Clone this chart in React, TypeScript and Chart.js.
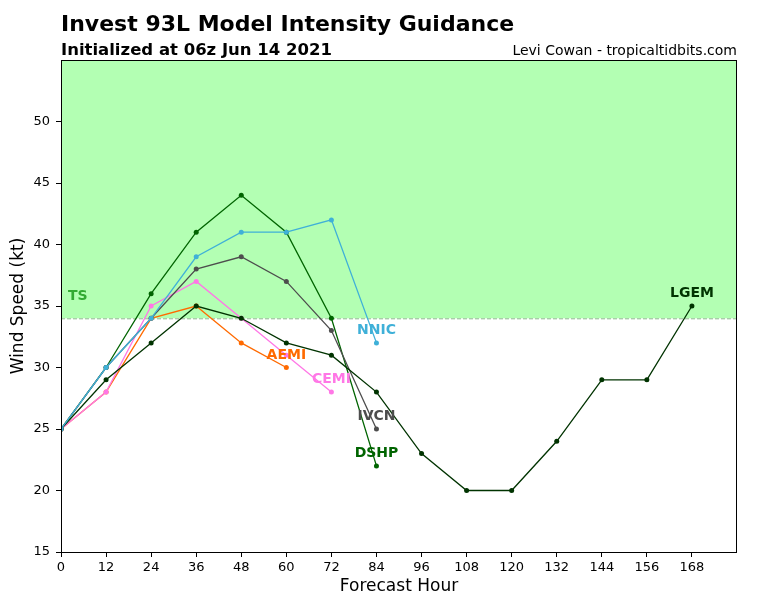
import React, { useEffect, useRef } from "react";
import { Chart, registerables } from "chart.js";

Chart.register(...registerables);

const hours = [0, 12, 24, 36, 48, 60, 72, 84, 96, 108, 120, 132, 144, 156, 168];
const xTicks = [0, 12, 24, 36, 48, 60, 72, 84, 96, 108, 120, 132, 144, 156, 168];
const yTicks = [15, 20, 25, 30, 35, 40, 45, 50];

const dshp = [25, 30, 36, 41, 44, 41, 34, 22];
const lgem = [25, 29, 32, 35, 34, 32, 31, 28, 23, 20, 20, 24, 29, 29, 35];
const nnic = [25, 30, 34, 39, 41, 41, 42, 32];
const ivcn = [25, 30, 34, 38, 39, 37, 33, 25];
const aemi = [25, 28, 34, 35, 32, 30];
const cemi = [25, 28, 35, 37, 34, 31, 28];

// listed from top-most to bottom-most
const models = [
  { name: "NNIC", values: nnic, color: "#3fb0d8" },
  { name: "LGEM", values: lgem, color: "#003300" },
  { name: "IVCN", values: ivcn, color: "#4d4d4d" },
  { name: "DSHP", values: dshp, color: "#006400" },
  { name: "CEMI", values: cemi, color: "#ff77e6" },
  { name: "AEMI", values: aemi, color: "#ff6a00" },
];

const TS_THRESHOLD = 34;
const FONT = "'DejaVu Sans', sans-serif";

const decorPlugin = {
  id: "decor",
  beforeDatasetsDraw(chart: any) {
    const { ctx, chartArea, scales } = chart;
    const y34 = scales.y.getPixelForValue(TS_THRESHOLD);
    ctx.save();
    ctx.fillStyle = "#b3ffb3";
    ctx.fillRect(chartArea.left, chartArea.top, chartArea.right - chartArea.left, y34 - chartArea.top);
    ctx.strokeStyle = "#8fb88f";
    ctx.lineWidth = 1;
    ctx.setLineDash([4, 2]);
    ctx.beginPath();
    ctx.moveTo(chartArea.left, y34 + 0.5);
    ctx.lineTo(chartArea.right, y34 + 0.5);
    ctx.stroke();
    ctx.setLineDash([]);
    ctx.fillStyle = "#33aa33";
    ctx.font = `bold 14px ${FONT}`;
    ctx.textAlign = "left";
    ctx.textBaseline = "middle";
    ctx.fillText("TS", chartArea.left + 7, scales.y.getPixelForValue(35.8));
    ctx.restore();
  },
  afterDatasetsDraw(chart: any) {
    const { ctx, chartArea, scales } = chart;
    ctx.save();
    ctx.font = `bold 14px ${FONT}`;
    ctx.textAlign = "center";
    ctx.textBaseline = "middle";
    models.forEach((m) => {
      const i = m.values.length - 1;
      const x = scales.x.getPixelForValue(hours[i]);
      const y = scales.y.getPixelForValue(m.values[i] + 1);
      ctx.fillStyle = m.color;
      ctx.fillText(m.name, x, y);
    });
    // frame
    ctx.strokeStyle = "#000";
    ctx.lineWidth = 1;
    ctx.strokeRect(chartArea.left + 0.5, chartArea.top + 0.5, chartArea.right - chartArea.left - 1, chartArea.bottom - chartArea.top);
    // titles
    ctx.fillStyle = "#000";
    ctx.textAlign = "left";
    ctx.textBaseline = "alphabetic";
    ctx.font = `bold 22px ${FONT}`;
    ctx.fillText("Invest 93L Model Intensity Guidance", 61, 31);
    ctx.font = `bold 16.5px ${FONT}`;
    ctx.fillText("Initialized at 06z Jun 14 2021", 61, 55);
    ctx.font = `14px ${FONT}`;
    ctx.textAlign = "right";
    ctx.fillText("Levi Cowan - tropicaltidbits.com", 737, 55);
    // axis titles
    ctx.textAlign = "center";
    ctx.textBaseline = "middle";
    ctx.font = `17px ${FONT}`;
    ctx.fillText("Forecast Hour", (chartArea.left + chartArea.right) / 2, 587);
    ctx.save();
    ctx.translate(19, (chartArea.top + chartArea.bottom) / 2);
    ctx.rotate(-Math.PI / 2);
    ctx.fillText("Wind Speed (kt)", 0, 0);
    ctx.restore();
    ctx.restore();
  },
};

export default function App() {
  const ref = useRef<HTMLCanvasElement>(null);
  useEffect(() => {
    if (!ref.current) return;
    const chart = new Chart(ref.current, {
      type: "line",
      data: {
        datasets: models.map((m) => ({
          label: m.name,
          data: m.values.map((v, i) => ({ x: hours[i], y: v })),
          borderColor: m.color,
          backgroundColor: m.color,
          borderWidth: 1.3,
          pointRadius: 2.5,
          pointHoverRadius: 2.5,
          pointBorderWidth: 0,
          tension: 0,
          fill: false,
        })),
      },
      options: {
        animation: false,
        responsive: false,
        maintainAspectRatio: false,
        events: [],
        layout: { padding: { top: 60, right: 31, left: 0, bottom: 0 } },
        plugins: { legend: { display: false }, tooltip: { enabled: false }, title: { display: false } },
        scales: {
          x: {
            type: "linear",
            min: 0,
            max: 180,
            afterFit(scale: any) {
              scale.height = 48;
            },
            afterBuildTicks(scale: any) {
              scale.ticks = xTicks.map((v) => ({ value: v }));
            },
            ticks: {
              color: "#000",
              font: { family: FONT, size: 13 },
              padding: 3,
              maxRotation: 0,
              autoSkip: false,
            },
            grid: { display: true, drawOnChartArea: false, drawTicks: true, tickLength: 5, color: "#000" },
            border: { display: false },
          },
          y: {
            type: "linear",
            min: 15,
            max: 55,
            afterFit(scale: any) {
              scale.width = 61;
            },
            afterBuildTicks(scale: any) {
              scale.ticks = yTicks.map((v) => ({ value: v }));
            },
            ticks: {
              color: "#000",
              font: { family: FONT, size: 13 },
              padding: 6,
              autoSkip: false,
            },
            grid: { display: true, drawOnChartArea: false, drawTicks: true, tickLength: 5, color: "#000" },
            border: { display: false },
          },
        },
      },
      plugins: [decorPlugin],
    });
    return () => chart.destroy();
  }, []);
  return (
    <div style={{ position: "fixed", left: 0, top: 0, width: 768, height: 600, background: "#fff" }}>
      <canvas ref={ref} width={768} height={600} style={{ width: 768, height: 600 }} />
    </div>
  );
}
